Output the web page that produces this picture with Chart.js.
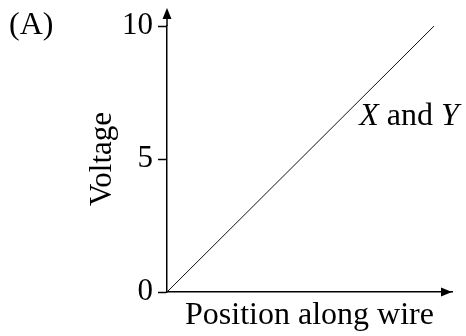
<!DOCTYPE html>
<html>
<head>
<meta charset="utf-8">
<script src="https://cdn.jsdelivr.net/npm/chart.js@4/dist/chart.umd.min.js"></script>
<style>
  html, body { margin: 0; padding: 0; background: #fff; }
  #wrap { width: 466px; height: 336px; }
</style>
</head>
<body>
<div id="wrap"><canvas id="myChart1"></canvas></div>
<script>
// position along the wire and voltage for wires X and Y (same straight line)
const positions = [0, 10];
const voltages = [0, 10];
const voltTicks = [0, 5, 10];

const serif = "'Liberation Serif', 'Times New Roman', serif";

let points = [];
for (let index = 0; index <= positions.length - 1; index++) {
  points.push({ x: positions[index], y: voltages[index] });
}

// arrows on the axes, the (A) tag and the "X and Y" line label
const extras = {
  id: 'extras',
  afterDraw(chart) {
    const ctx = chart.ctx;
    const area = chart.chartArea;
    const xs = chart.scales.x;
    const ys = chart.scales.y;
    ctx.save();
    ctx.fillStyle = '#000';
    ctx.strokeStyle = '#000';
    ctx.lineWidth = 1.5;

    // y axis runs on past 10 up to an arrow
    ctx.beginPath();
    ctx.moveTo(area.left, area.top);
    ctx.lineTo(area.left, area.top - 10);
    ctx.stroke();
    ctx.beginPath();
    ctx.moveTo(area.left, area.top - 18);
    ctx.lineTo(area.left - 4.5, area.top - 7);
    ctx.lineTo(area.left + 4.5, area.top - 7);
    ctx.closePath();
    ctx.fill();

    // x axis arrow
    ctx.beginPath();
    ctx.moveTo(area.right, area.bottom);
    ctx.lineTo(area.right - 11, area.bottom - 4.5);
    ctx.lineTo(area.right - 11, area.bottom + 4.5);
    ctx.closePath();
    ctx.fill();

    ctx.textBaseline = 'alphabetic';
    ctx.textAlign = 'left';
    ctx.font = '32px ' + serif;
    ctx.fillText('(A)', 9, 34);

    // label beside the line
    let lx = xs.getPixelForValue(7.2);
    const ly = ys.getPixelForValue(6.26);
    ctx.font = 'italic 32px ' + serif;
    ctx.fillText('X', lx, ly);
    lx += ctx.measureText('X').width;
    ctx.font = '32px ' + serif;
    ctx.fillText(' and ', lx, ly);
    lx += ctx.measureText(' and ').width;
    ctx.font = 'italic 32px ' + serif;
    ctx.fillText('Y', lx, ly);
    ctx.restore();
  }
};

const ctx1 = document.getElementById('myChart1');

new Chart(ctx1, {
  type: 'scatter',
  data: {
    datasets: [{
      label: 'X and Y',
      data: points,
      showLine: true,
      borderColor: '#111',
      borderWidth: 1,
      pointRadius: 0,
      clip: false
    }]
  },
  options: {
    responsive: true,
    maintainAspectRatio: false,
    animation: false,
    layout: { padding: { top: 26, right: 14, left: 0, bottom: 0 } },
    plugins: {
      legend: { display: false },
      tooltip: { enabled: false }
    },
    scales: {
      x: {
        type: 'linear',
        min: 0,
        max: 10.67,
        afterFit: (scale) => { scale.height = 44; },
        ticks: { display: false },
        grid: { display: false },
        border: { display: true, color: '#000', width: 1.5 },
        title: {
          display: true,
          text: 'Position along wire',
          color: '#000',
          font: { family: serif, size: 32 },
          padding: { top: 0, bottom: 1 }
        }
      },
      y: {
        type: 'linear',
        min: 0,
        max: 10,
        afterFit: (scale) => { scale.width = 167; },
        afterBuildTicks: (scale) => {
          scale.ticks = voltTicks.map(v => ({ value: v }));
        },
        ticks: {
          color: '#000',
          padding: 5,
          font: { family: serif, size: 31 }
        },
        grid: {
          drawOnChartArea: false,
          drawTicks: true,
          tickLength: 9,
          tickColor: '#000',
          tickWidth: 1.5
        },
        border: { display: true, color: '#000', width: 1.5 },
        title: {
          display: true,
          text: 'Voltage',
          color: '#000',
          font: { family: serif, size: 31 },
          padding: { top: 84, bottom: 0 }
        }
      }
    }
  },
  plugins: [extras]
});
</script>
</body>
</html>
